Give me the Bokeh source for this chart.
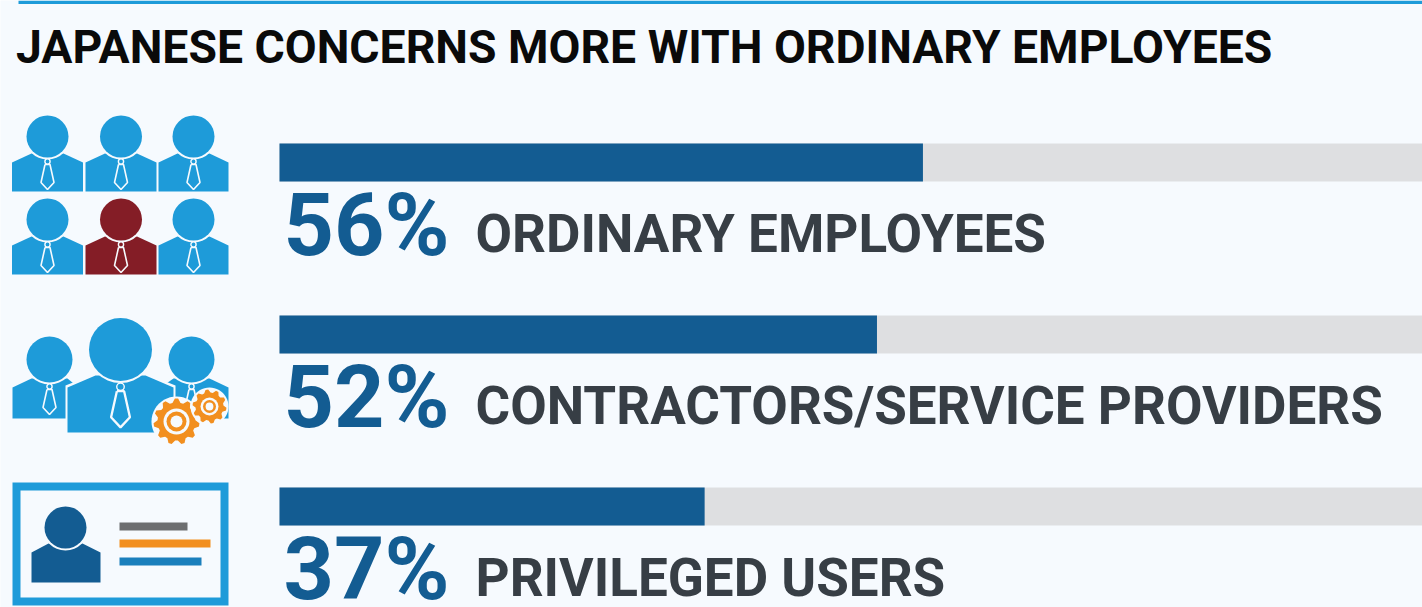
import math
from bokeh.plotting import figure
from bokeh.models import Range1d
from bokeh.core.properties import value
from bokeh.embed import file_html
from bokeh.resources import INLINE

TITLE = "JAPANESE CONCERNS MORE WITH ORDINARY EMPLOYEES"
categories = ["ORDINARY EMPLOYEES", "CONTRACTORS/SERVICE PROVIDERS", "PRIVILEGED USERS"]
shares = [56, 52, 37]
full_scale = [100, 100, 100]

BG = "#f6fafe"; BLUE = "#1e9bd9"; DARK = "#135c92"; GRAY = "#dedfe1"
MAROON = "#841d26"; ORANGE = "#f28f1f"; INK = "#373e45"

W, H = 1422, 607
PX_PER_PCT = 11.49
X0 = 279
p = figure(width=W, height=H, output_backend="svg", toolbar_location=None,
           x_range=Range1d(-X0 / PX_PER_PCT, (W - X0) / PX_PER_PCT),
           y_range=Range1d(H, 0),
           background_fill_color=BG, border_fill_color=BG,
           min_border=0, outline_line_color=None)
p.axis.visible = False
p.grid.visible = False
p.extra_x_ranges["px"] = Range1d(0, W)

def rect(x0, x1, y0, y1, color):
    p.quad(left=x0, right=x1, top=y0, bottom=y1, fill_color=color, line_color=None, x_range_name="px")

def poly(pts, color):
    p.patch([a for a, b in pts], [b for a, b in pts], fill_color=color, line_color=None, x_range_name="px")

def circle(cx, cy, r, color, line=None, lw=0):
    p.circle(x=[cx], y=[cy], radius=r, fill_color=color, line_color=line, line_width=lw, x_range_name="px")

def person(cx, hy, r, xl, xr, sh_out, sh_in, neck, bottom, color, tie=True, halo=0, ts=1.0):
    if halo:
        pts = [(xl - halo, bottom), (xl - halo, sh_out - halo), (cx - neck, sh_in - halo),
               (cx + neck, sh_in - halo), (xr + halo, sh_out - halo), (xr + halo, bottom)]
        poly(pts, BG)
    poly([(xl, bottom), (xl, sh_out), (cx - neck, sh_in), (cx + neck, sh_in), (xr, sh_out), (xr, bottom)], color)
    circle(cx, hy, r + 2, BG)
    circle(cx, hy, r, color)
    if tie:
        ky = hy + r + 4 * ts
        circle(cx, ky, 2.6 * ts, color, BG, 1.4)
        xs = [cx - 2.5 * ts, cx - 6.5 * ts, cx, cx + 6.5 * ts, cx + 2.5 * ts, cx - 2.5 * ts]
        ys = [ky + 3 * ts, ky + 21 * ts, ky + 28 * ts, ky + 21 * ts, ky + 3 * ts, ky + 3 * ts]
        p.line(xs, ys, line_color=BG, line_width=1.6 * ts, x_range_name="px")

def gear(cx, cy, ro, ri, hole_o, hole_i, teeth):
    pts = []
    n = teeth * 4
    for i in range(n):
        a = 2 * math.pi * (i + 0.5) / n
        rr = ro if i % 4 in (0, 1) else ri
        pts.append((cx + rr * math.cos(a), cy + rr * math.sin(a)))
    halo = [(cx + (ro + 2) * math.cos(2 * math.pi * k / 48), cy + (ro + 2) * math.sin(2 * math.pi * k / 48)) for k in range(48)]
    poly(halo, BG)
    poly(pts, ORANGE)
    circle(cx, cy, hole_o, BG)
    circle(cx, cy, hole_i, ORANGE)
    circle(cx, cy, hole_i * 0.6, BG)

# top rule
rect(18, W, 0, 3.5, BLUE)

# bars
rows_top = [143, 315, 487]
bar_h = 38
p.quad(left=[0] * 3, right=full_scale, top=rows_top, bottom=[t + bar_h for t in rows_top],
       fill_color=GRAY, line_color=None)
p.quad(left=[0] * 3, right=shares, top=rows_top, bottom=[t + bar_h for t in rows_top],
       fill_color=DARK, line_color=None)

def txt(x, y, t, size, color):
    p.text(x=x, y=y, text=t, text_font=value("Roboto"), text_font_style="bold",
           text_font_size=f"{size}px", text_color=color, text_baseline="middle", x_range_name="px")

txt([15.5], [46], [TITLE], 46.3, "#0a0a0a")
txt([283] * 3, [t + 81 for t in rows_top], [f"{v}%" for v in shares], 88, DARK)
txt([475] * 3, [t + 90.5 for t in rows_top], categories, 53, INK)

# icon 1: grid of people
for hy, bottom in ((136, 191), (219, 274)):
    for cx in (47, 120.5, 193):
        c = MAROON if (cx == 120.5 and hy == 219) else BLUE
        person(cx, hy, 21, cx - 35.5 if cx != 193 else 158, cx + 35.5 if cx != 193 else 228,
               bottom - 29, bottom - 38, 16, bottom, c)

# icon 2: team with gears
person(49, 359, 23, 12, 78, 387, 378, 18, 418, BLUE)
person(191, 359, 23, 160, 228, 387, 378, 18, 418, BLUE)
person(120, 349, 31.5, 67, 173, 387, 375, 25, 432, BLUE, halo=2, ts=1.45)
gear(176, 421, 23, 19, 13, 10, 11)
gear(209, 406, 17, 14, 9, 6.5, 10)

# icon 3: id card
rect(12, 228, 482, 605, BLUE)
rect(20, 220, 490, 597, BG)
person(65, 527, 21, 31, 100, 552, 543, 17, 582, DARK, tie=False)
rect(119, 187, 522, 530, "#6d6e70")
rect(119, 210, 539, 547, ORANGE)
rect(119, 201, 557, 565, "#1a7fbc")

open("out.html", "w").write(file_html(p, INLINE))
